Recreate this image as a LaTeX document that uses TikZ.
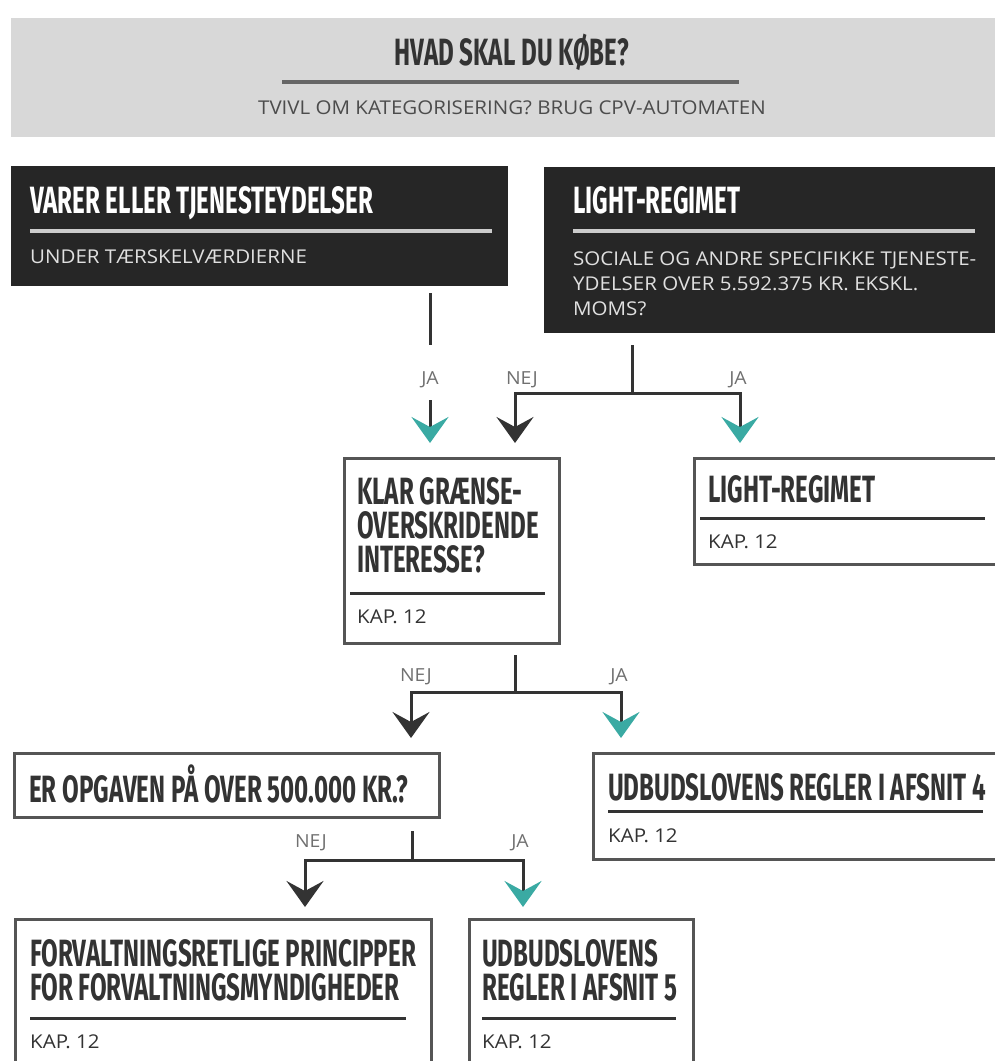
\documentclass[tikz,border=0pt]{standalone}
\usepackage{fontspec}
\setmainfont{Open Sans}[FakeStretch=1.08]
\newfontfamily\headfont{Fira Sans}[FakeStretch=0.635]
\usetikzlibrary{arrows.meta}
\definecolor{band}{HTML}{D8D8D8}
\definecolor{darkbox}{HTML}{262626}
\definecolor{tealc}{HTML}{3AAAA3}
\definecolor{ink}{HTML}{333333}
\definecolor{frame}{HTML}{555555}
\definecolor{lblc}{HTML}{707070}
\begin{document}
\begin{tikzpicture}[x=1pt,y=-1pt,
  wbox/.style={draw=frame,line width=3pt,fill=white,anchor=north west,inner sep=0pt},
  dbox/.style={fill=darkbox,anchor=north west,inner sep=0pt},
  htitle/.style={font=\headfont\bfseries\fontsize{38}{38}\selectfont,text=ink,anchor=base west,inner sep=0pt,text height=26pt,text depth=0pt},
  mtitle/.style={font=\headfont\bfseries\fontsize{38}{34}\selectfont,text=ink,anchor=north west,inner sep=0pt,align=left},
  dtitle/.style={htitle,text=white},
  small/.style={font=\fontsize{19}{19}\selectfont,text=ink,anchor=base west,inner sep=0pt,text height=14pt,text depth=2pt},
  dsmall/.style={small,text=white!88!black},
  yn/.style={font=\fontsize{18}{18}\selectfont,text=lblc,inner sep=0pt},
  conn/.style={draw=ink,line width=3pt},
  tipT/.style={-{Stealth[length=26pt,width=37pt,inset=10pt,color=tealc]}},
  tipK/.style={-{Stealth[length=26pt,width=37pt,inset=10pt,color=ink]}},
  wsep/.style={draw=ink,line width=3pt},
  dsep/.style={draw=white!80!black,line width=4pt},
]
\useasboundingbox (0,0) rectangle (995,1061);
\clip (0,0) rectangle (995,1061);

% header
\node[fill=band,anchor=north west,inner sep=0pt,minimum width=995pt,minimum height=119pt] (band) at (11,18) {};
\node[htitle,anchor=base] (title) at (512,65) {HVAD SKAL DU KØBE?};
\draw[draw=black!60,line width=4pt] (282,82) -- (739,82);
\node[small,anchor=base,text=black!70] (subtitle) at (512,114) {TVIVL OM KATEGORISERING? BRUG CPV-AUTOMATEN};

% dark boxes
\node[dbox,minimum width=497pt,minimum height=120pt] (varer) at (11,166) {};
\node[dtitle] (varerT) at (30,213) {VARER ELLER TJENESTEYDELSER};
\draw[dsep] (30,231) -- (492,231);
\node[dsmall] (varerS) at (30,263) {UNDER TÆRSKELVÆRDIERNE};

\node[dbox,minimum width=470pt,minimum height=166pt] (lightq) at (544,167) {};
\node[dtitle] (lightqT) at (573,213) {LIGHT-REGIMET};
\draw[dsep] (573,231) -- (975,231);
\node[dsmall] (lightqS1) at (573,265) {SOCIALE OG ANDRE SPECIFIKKE TJENESTE-};
\node[dsmall] (lightqS2) at (573,290) {YDELSER OVER 5.592.375 KR. EKSKL.};
\node[dsmall] (lightqS3) at (573,315) {MOMS?};

% white boxes
\node[wbox,minimum width=215pt,minimum height=185pt] (klar) at (343,457) {};
\node[mtitle] (klarT) at (357,477) {KLAR GRÆNSE-\\OVERSKRIDENDE\\INTERESSE?};
\draw[wsep] (350,593) -- (545,593);
\node[small] (klarK) at (357,623) {KAP. 12};

\node[wbox,minimum width=330pt,minimum height=106pt] (lightres) at (693,457) {};
\node[htitle] (lightresT) at (708,502) {LIGHT-REGIMET};
\draw[wsep] (700,518) -- (985,518);
\node[small] (lightresK) at (708,548) {KAP. 12};

\node[wbox,minimum width=425pt,minimum height=64pt] (er) at (13,752) {};
\node[htitle] (erT) at (29,802) {ER OPGAVEN PÅ OVER 500.000 KR.?};

\node[wbox,minimum width=430pt,minimum height=106pt] (udb4) at (592,752) {};
\node[htitle] (udb4T) at (608,800) {UDBUDSLOVENS REGLER I AFSNIT 4};
\draw[wsep] (608,811) -- (983,811);
\node[small] (udb4K) at (608,842) {KAP. 12};

\node[wbox,minimum width=416pt,minimum height=200pt] (forv) at (14,918) {};
\node[mtitle] (forvT) at (30,939) {FORVALTNINGSRETLIGE PRINCIPPER\\FOR FORVALTNINGSMYNDIGHEDER};
\draw[wsep] (30,1018) -- (406,1018);
\node[small] (forvK) at (30,1048) {KAP. 12};

\node[wbox,minimum width=224pt,minimum height=200pt] (udb5) at (468,918) {};
\node[mtitle] (udb5T) at (482,939) {UDBUDSLOVENS\\REGLER I AFSNIT 5};
\draw[wsep] (482,1018) -- (676,1018);
\node[small] (udb5K) at (482,1048) {KAP. 12};

% connectors level 1
\node[yn] (ja1) at (430,380) {JA};
\draw[conn,shorten <=7pt,shorten >=35pt] (varer.south -| ja1) -- (ja1.center);
\draw[conn,tipT,shorten <=20pt,shorten >=14pt] (ja1.center) -- (klar.north -| ja1);

\coordinate (j1) at (632,393);
\coordinate (d1) at (515,393);
\coordinate (d2) at (740,393);
\draw[conn,shorten <=12pt] (lightq.south -| j1) -- (j1);
\draw[conn,tipK,shorten >=14pt] (j1) -- (d1) -- (klar.north -| d1);
\draw[conn,tipT,shorten >=14pt] (j1) -- (d2) -- (lightres.north -| d2);
\node[yn] (nej1) at (522,380) {NEJ};
\node[yn] (ja2) at (738,380) {JA};

% level 2
\coordinate (j2) at (515,692);
\coordinate (d3) at (411,692);
\coordinate (d4) at (621,692);
\draw[conn,shorten <=10pt] (klar.south -| j2) -- (j2);
\draw[conn,tipK,shorten >=14pt] (j2) -- (d3) -- (er.north -| d3);
\draw[conn,tipT,shorten >=14pt] (j2) -- (d4) -- (udb4.north -| d4);
\node[yn] (nej2) at (416,677) {NEJ};
\node[yn] (ja3) at (619,677) {JA};

% level 3
\coordinate (j3) at (412,860);
\coordinate (d5) at (305,860);
\coordinate (d6) at (523,860);
\draw[conn,shorten <=12pt] (er.south -| j3) -- (j3);
\draw[conn,tipK,shorten >=11pt] (j3) -- (d5) -- (forv.north -| d5);
\draw[conn,tipT,shorten >=11pt] (j3) -- (d6) -- (udb5.north -| d6);
\node[yn] (nej3) at (311,843) {NEJ};
\node[yn] (ja4) at (520,843) {JA};
\end{tikzpicture}
\end{document}
